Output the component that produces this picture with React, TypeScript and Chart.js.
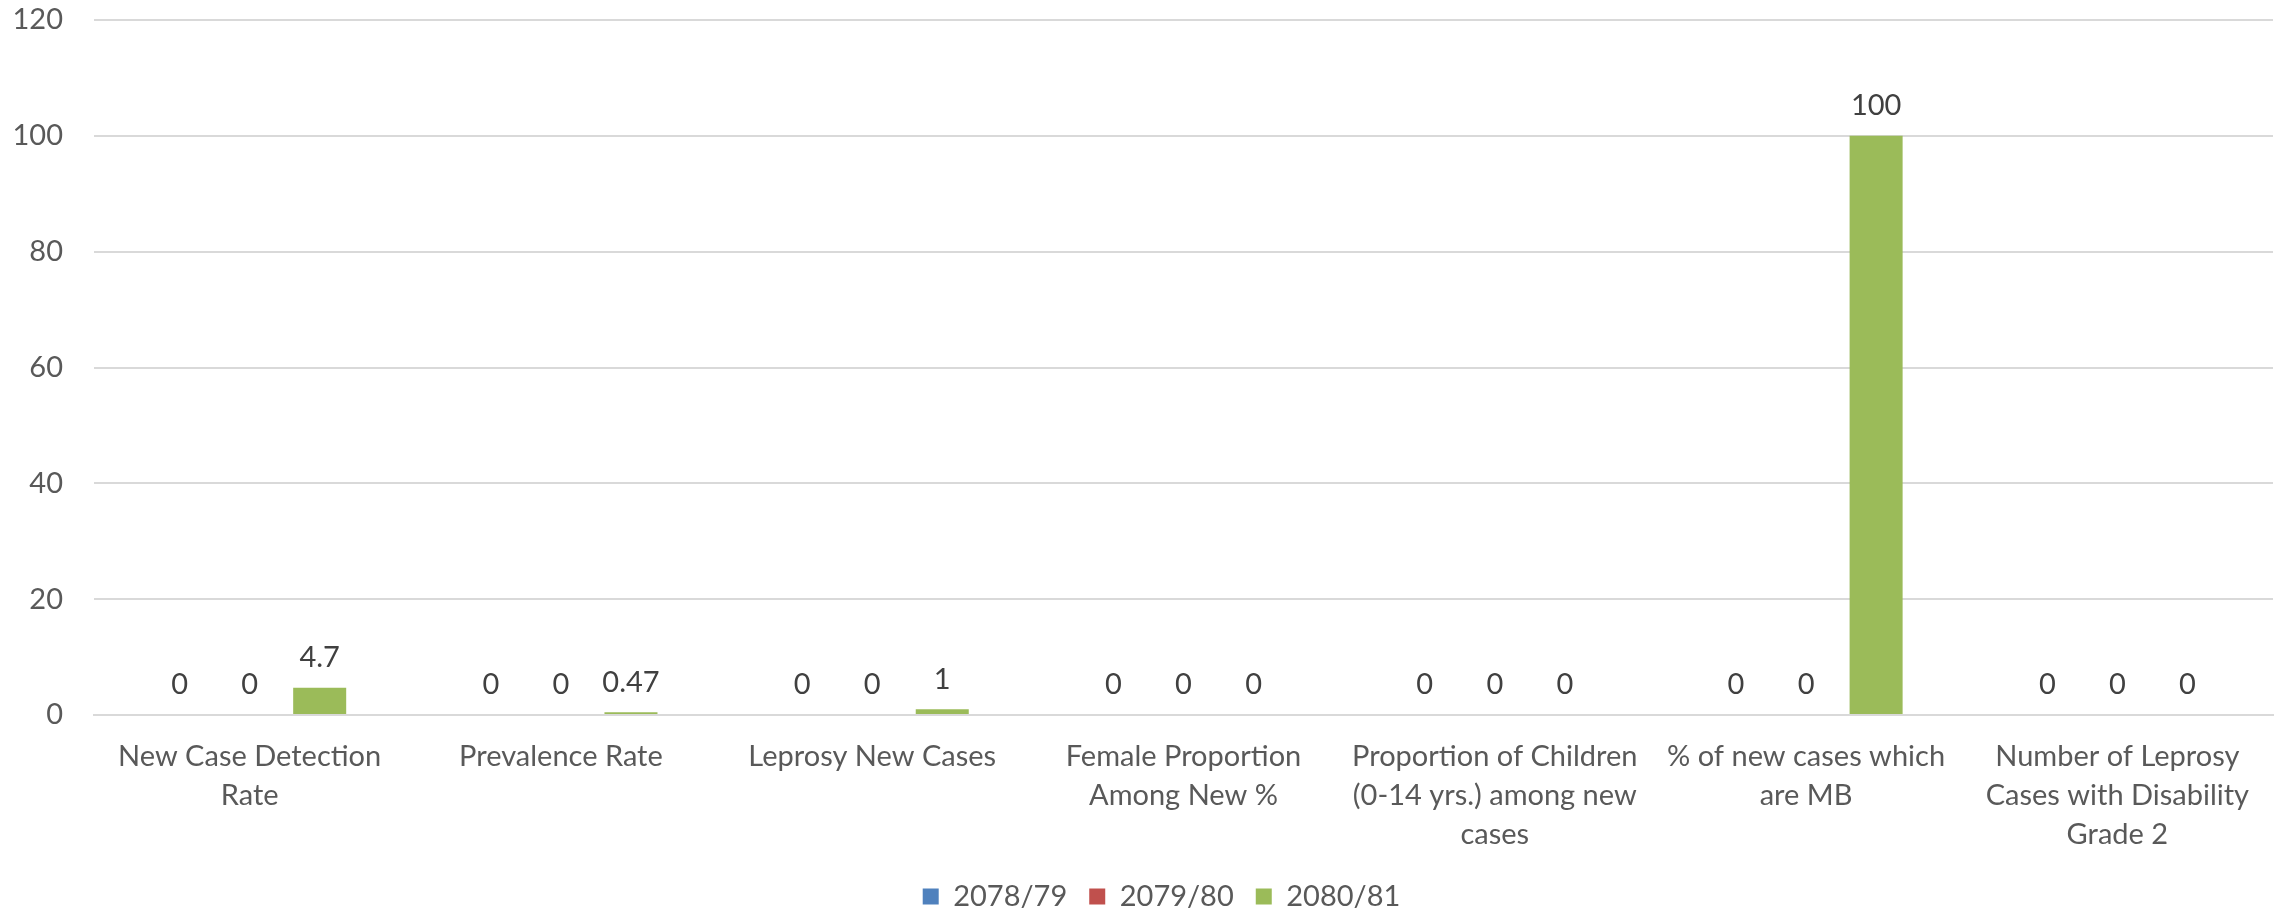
import React, { useEffect, useRef } from "react";
import { Chart, registerables } from "chart.js";

Chart.register(...registerables);

const categories: string[][] = [
  ["New Case Detection", "Rate"],
  ["Prevalence Rate"],
  ["Leprosy New Cases"],
  ["Female Proportion", "Among New %"],
  ["Proportion of Children", "(0-14 yrs.) among new", "cases"],
  ["% of new cases which", "are MB"],
  ["Number of Leprosy", "Cases with Disability", "Grade 2"],
];
const seriesNames = ["2078/79", "2079/80", "2080/81"];
const values2078 = [0, 0, 0, 0, 0, 0, 0];
const values2079 = [0, 0, 0, 0, 0, 0, 0];
const values2080 = [4.7, 0.47, 1, 0, 0, 100, 0];
const seriesColors = ["#4F81BD", "#C0504D", "#9BBB59"];
const yMin = 0;
const yMax = 120;
const yStep = 20;

const FONT = "Lato";
const FS = 29;

const dataLabelPlugin = {
  id: "dataLabels",
  afterDatasetsDraw(chart: any) {
    const ctx = chart.ctx;
    ctx.save();
    ctx.font = `${FS}px ${FONT}`;
    ctx.fillStyle = "#404040";
    ctx.textAlign = "center";
    ctx.textBaseline = "middle";
    chart.data.datasets.forEach((ds: any, i: number) => {
      const meta = chart.getDatasetMeta(i);
      meta.data.forEach((bar: any, j: number) => {
        const v = ds.data[j];
        ctx.fillText(String(v), bar.x, bar.y - 30);
      });
    });
    ctx.restore();
  },
};

const legendShiftPlugin = {
  id: "legendShift",
  afterLayout(chart: any) {
    if (chart.legend) {
      chart.legend.left += 50;
    }
  },
};

export default function App() {
  const ref = useRef<HTMLCanvasElement | null>(null);

  useEffect(() => {
    document.body.style.margin = "0";
    const canvas = ref.current;
    if (!canvas) return;
    const allValues = [values2078, values2079, values2080];
    const chart = new Chart(canvas, {
      type: "bar",
      data: {
        labels: categories,
        datasets: seriesNames.map((name, i) => ({
          label: name,
          data: allValues[i],
          backgroundColor: seriesColors[i],
          borderWidth: 0,
          categoryPercentage: 0.675,
          barPercentage: 0.757,
        })),
      },
      options: {
        responsive: false,
        animation: false,
        layout: { padding: { left: 0, right: 10, top: 20, bottom: -10 } },
        plugins: {
          legend: {
            position: "bottom",
            labels: {
              boxWidth: 16,
              boxHeight: 16,
              padding: 22,
              color: "#595959",
              font: { family: FONT, size: FS },
            },
          },
          tooltip: { enabled: false },
        },
        scales: {
          x: {
            grid: { display: false, drawTicks: false },
            border: { display: true, color: "#d9d9d9", width: 2 },
            ticks: {
              color: "#595959",
              padding: 22,
              maxRotation: 0,
              autoSkip: false,
              font: { family: FONT, size: FS, lineHeight: 39 / FS },
            },
            afterFit: (s: any) => {
              s.height = 145;
              s.paddingLeft = 0;
              s.paddingRight = 0;
            },
          },
          y: {
            min: yMin,
            max: yMax,
            ticks: {
              stepSize: yStep,
              color: "#595959",
              padding: 31,
              font: { family: FONT, size: FS },
            },
            grid: { color: "#d9d9d9", lineWidth: 2, drawTicks: false },
            border: { display: false },
            afterFit: (s: any) => {
              s.width = 94;
              s.paddingTop = 0;
              s.paddingBottom = 0;
            },
          },
        },
      },
      plugins: [dataLabelPlugin, legendShiftPlugin],
    });
    return () => chart.destroy();
  }, []);

  return (
    <div style={{ position: "absolute", left: 0, top: 0, width: 2283, height: 911, background: "#fff" }}>
      <canvas ref={ref} width={2283} height={911} style={{ display: "block" }} />
    </div>
  );
}
